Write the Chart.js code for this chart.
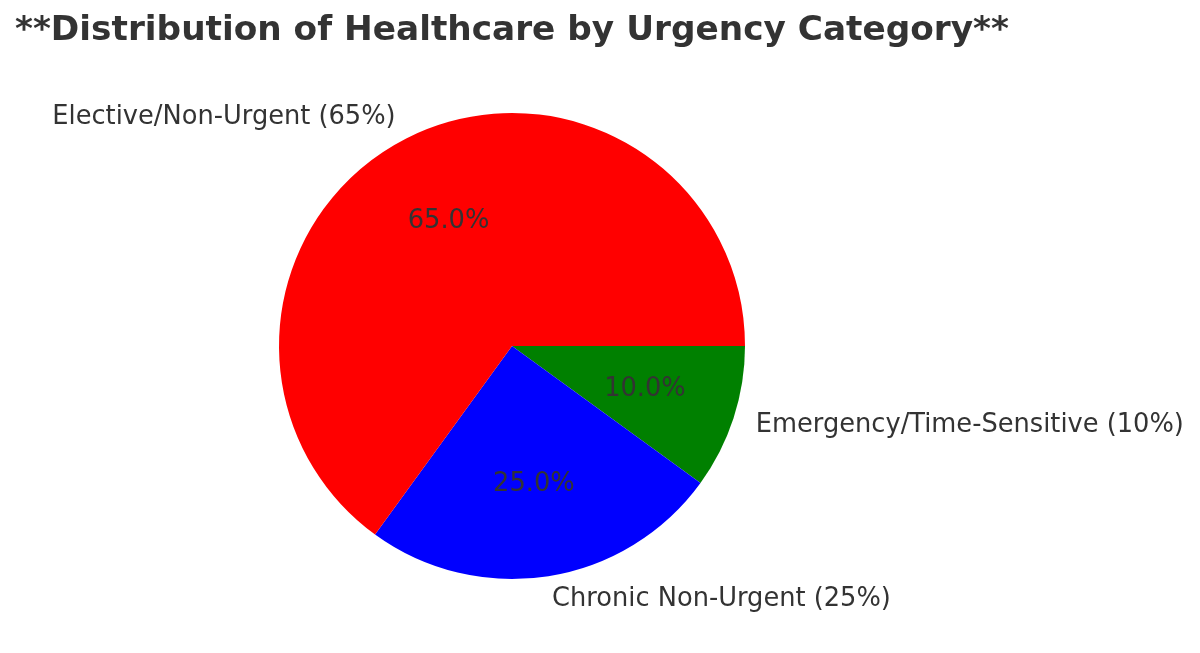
<!DOCTYPE html>
<html>
<head>
<meta charset="utf-8">
<script src="https://cdn.jsdelivr.net/npm/chart.js@4"></script>
<style>
  html, body { margin: 0; padding: 0; background: #fff; }
  #wrap { width: 1200px; height: 653px; position: relative; }
</style>
</head>
<body>
<div id="wrap"><canvas id="pie"></canvas></div>
<script>
// data, listed clockwise from 3 o'clock (reference goes counter-clockwise from there)
const categories = ['Emergency/Time-Sensitive (10%)', 'Chronic Non-Urgent (25%)', 'Elective/Non-Urgent (65%)'];
const shares = [10, 25, 65];
const sliceColors = ['#008000', '#0000ff', '#ff0000'];
const chartTitle = '**Distribution of Healthcare by Urgency Category**';

const textColor = '#333333';

// draws title, outer labels (1.1r) and percentages (0.6r) like matplotlib
const pieText = {
  id: 'pieText',
  afterDraw(chart) {
    const ctx = chart.ctx;
    ctx.save();
    ctx.fillStyle = textColor;
    ctx.font = 'bold 34.3px "DejaVu Sans"';
    ctx.textAlign = 'left';
    ctx.textBaseline = 'middle';
    ctx.fillText(chartTitle, 15, 31);

    const total = shares.reduce((a, b) => a + b, 0);
    chart.getDatasetMeta(0).data.forEach((arc, i) => {
      const p = arc.getProps(['x', 'y', 'startAngle', 'endAngle', 'outerRadius'], true);
      const mid = (p.startAngle + p.endAngle) / 2;
      const cx = Math.cos(mid), cy = Math.sin(mid);

      ctx.font = '25.7px "DejaVu Sans"';
      ctx.textBaseline = 'middle';
      ctx.textAlign = cx >= 0 ? 'left' : 'right';
      ctx.fillText(categories[i], p.x + cx * p.outerRadius * 1.1, p.y + cy * p.outerRadius * 1.1);

      ctx.textAlign = 'center';
      const pct = (shares[i] / total * 100).toFixed(1) + '%';
      ctx.fillText(pct, p.x + cx * p.outerRadius * 0.6, p.y + cy * p.outerRadius * 0.6);
    });
    ctx.restore();
  }
};

new Chart(document.getElementById('pie'), {
  type: 'pie',
  data: {
    labels: categories,
    datasets: [{
      data: shares,
      backgroundColor: sliceColors,
      borderWidth: 0
    }]
  },
  options: {
    responsive: true,
    maintainAspectRatio: false,
    animation: false,
    rotation: 90,
    layout: { padding: { left: 279, right: 455, top: 113, bottom: 74 } },
    plugins: {
      legend: { display: false },
      tooltip: { enabled: false }
    }
  },
  plugins: [pieText]
});
</script>
</body>
</html>
